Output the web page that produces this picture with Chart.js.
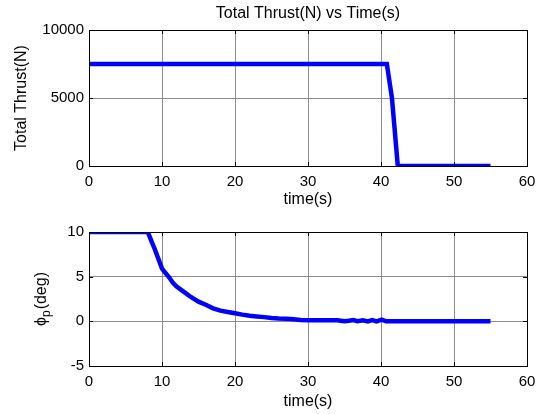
<!DOCTYPE html>
<html>
<head>
<meta charset="utf-8">
<script src="https://cdn.jsdelivr.net/npm/chart.js@4.4.1/dist/chart.umd.min.js"></script>
<style>
  html, body { margin: 0; padding: 0; background: #fff; }
  #wrap { position: relative; width: 539px; height: 414px; overflow: hidden; }
  .box { position: absolute; left: 0; width: 539px; height: 213px; }
</style>
</head>
<body>
<div id="wrap">
  <div class="box" style="top:0"><canvas id="cThrust"></canvas></div>
  <div class="box" style="top:201px"><canvas id="cPhi"></canvas></div>
</div>
<script>
// 横轴刻度 (两个子图共用)
const timeTicks = [0, 10, 20, 30, 40, 50, 60];

// 上图：总推力
const thrustTime = [0, 40.8, 41.5, 42.3, 55];
const thrustVal  = [7500, 7500, 5000, 0, 0];
const thrustTicks = [0, 5000, 10000];

// 下图：phi_p
const phiTime = [0, 8.05, 8.5, 9, 9.5, 10, 10.5, 11, 11.5, 12, 13, 14, 15, 16, 17, 18, 19, 20,
                 21, 22, 23, 24, 25, 26, 27, 28, 29, 30, 32, 34, 35, 35.6, 36.2, 36.8, 37.5,
                 38.2, 38.8, 39.4, 40.1, 40.7, 45, 50, 55];
const phiVal  = [10, 10, 9.1, 8.1, 7.0, 5.9, 5.4, 4.9, 4.3, 3.9, 3.3, 2.7, 2.2, 1.85, 1.45, 1.2, 1.05, 0.9,
                 0.75, 0.62, 0.55, 0.47, 0.38, 0.32, 0.28, 0.24, 0.15, 0.13, 0.13, 0.12, 0.0, 0.06, 0.15, 0.02, 0.12,
                 0.0, 0.15, 0.0, 0.18, 0.0, 0, 0, 0];
const phiTicks = [-5, 0, 5, 10];

const FONT = 'Arial, "Liberation Sans", Helvetica, sans-serif';

// MATLAB 风格的外框 + 向内的刻度线
const boxPlugin = {
  id: 'matlabBox',
  afterDatasetsDraw(chart) {
    const { ctx, chartArea: a, scales } = chart;
    ctx.save();
    ctx.strokeStyle = '#000';
    ctx.lineWidth = 1;
    ctx.beginPath();
    scales.x.ticks.forEach(t => {
      const px = Math.round(scales.x.getPixelForValue(t.value)) + 0.5;
      ctx.moveTo(px, a.bottom); ctx.lineTo(px, a.bottom - 4);
      ctx.moveTo(px, a.top); ctx.lineTo(px, a.top + 4);
    });
    scales.y.ticks.forEach(t => {
      const py = Math.round(scales.y.getPixelForValue(t.value)) + 0.5;
      ctx.moveTo(a.left, py); ctx.lineTo(a.left + 4, py);
      ctx.moveTo(a.right, py); ctx.lineTo(a.right - 4, py);
    });
    ctx.stroke();
    ctx.strokeRect(Math.round(a.left) + 0.5, Math.round(a.top) + 0.5,
                   Math.round(a.right - a.left), Math.round(a.bottom - a.top));
    ctx.restore();
  }
};

// 下图纵轴标题：ϕ 带下标 p
const phiLabelPlugin = {
  id: 'phiLabel',
  afterDraw(chart) {
    if (!chart.options.plugins.phiLabel) return;
    const { ctx, chartArea: a } = chart;
    const main = '16px ' + FONT, sub = '12px ' + FONT;
    ctx.save();
    ctx.fillStyle = '#000';
    ctx.textBaseline = 'alphabetic';
    ctx.font = main;
    const w1 = ctx.measureText('ϕ').width;
    const w3 = ctx.measureText('(deg)').width;
    ctx.font = sub;
    const w2 = ctx.measureText('p').width + 1;
    const total = w1 + w2 + w3;
    ctx.translate(46, (a.top + a.bottom) / 2);
    ctx.rotate(-Math.PI / 2);
    let x = -total / 2;
    ctx.font = main;
    ctx.fillText('ϕ', x, 0); x += w1;
    ctx.font = sub;
    ctx.fillText('p', x, 4); x += w2;
    ctx.font = main;
    ctx.fillText('(deg)', x, 0);
    ctx.restore();
  }
};

function makeChart(id, cfg) {
  const H = 213;
  const data = cfg.xs.map((x, i) => ({ x: x, y: cfg.ys[i] }));
  return new Chart(document.getElementById(id), {
    type: 'line',
    data: { datasets: [{ data: data, borderColor: '#0000ff', borderWidth: 4.5,
                         pointRadius: 0, tension: 0, fill: false }] },
    options: {
      responsive: false, animation: false,
      layout: { padding: { left: 0, right: 12, top: cfg.padTop, bottom: 0 } },
      plugins: {
        legend: { display: false }, tooltip: { enabled: false },
        phiLabel: cfg.phiLabel || false,
        title: cfg.title ? { display: true, fullSize: false, text: cfg.title, color: '#000',
                             font: { family: FONT, size: 16, weight: 'normal' },
                             padding: { top: 3.9, bottom: 6.9 } } : { display: false }
      },
      scales: {
        x: {
          type: 'linear', min: 0, max: 60,
          afterBuildTicks: s => { s.ticks = timeTicks.map(v => ({ value: v })); },
          afterFit: s => { s.height = H - cfg.plotBottom; s.paddingLeft = 0; s.paddingRight = 0; },
          ticks: { color: '#000', padding: 7, maxRotation: 0, font: { family: FONT, size: 15 },
                   callback: v => String(v) },
          grid: { color: '#8c8c8c', lineWidth: 1, drawTicks: false },
          border: { display: false },
          title: { display: true, text: 'time(s)', color: '#000',
                   font: { family: FONT, size: 16 }, padding: { top: 0, bottom: cfg.xTitleBottom } }
        },
        y: {
          type: 'linear', min: cfg.yTicks[0], max: cfg.yTicks[cfg.yTicks.length - 1],
          afterBuildTicks: s => { s.ticks = cfg.yTicks.map(v => ({ value: v })); },
          afterFit: s => { s.width = 89; },
          ticks: { color: '#000', padding: 5, font: { family: FONT, size: 15 },
                   callback: v => String(v) },
          grid: { color: '#8c8c8c', lineWidth: 1, drawTicks: false },
          border: { display: false },
          title: { display: !!cfg.yTitle, text: cfg.yTitle || '', color: '#000',
                   font: { family: FONT, size: 16 }, padding: { top: cfg.yTitleTop, bottom: 0 } }
        }
      }
    },
    plugins: [boxPlugin, phiLabelPlugin]
  });
}

document.getElementById('cThrust').width = 539;
document.getElementById('cThrust').height = 213;
document.getElementById('cPhi').width = 539;
document.getElementById('cPhi').height = 213;

makeChart('cThrust', {
  xs: thrustTime, ys: thrustVal, yTicks: thrustTicks,
  title: 'Total Thrust(N) vs Time(s)', yTitle: 'Total Thrust(N)',
  padTop: 0, plotBottom: 166, xTitleBottom: 3.4, yTitleTop: 12.4
});

makeChart('cPhi', {
  xs: phiTime, ys: phiVal, yTicks: phiTicks,
  title: null, yTitle: null, phiLabel: true,
  padTop: 31, plotBottom: 165, xTitleBottom: 2.4, yTitleTop: 0
});
</script>
</body>
</html>
